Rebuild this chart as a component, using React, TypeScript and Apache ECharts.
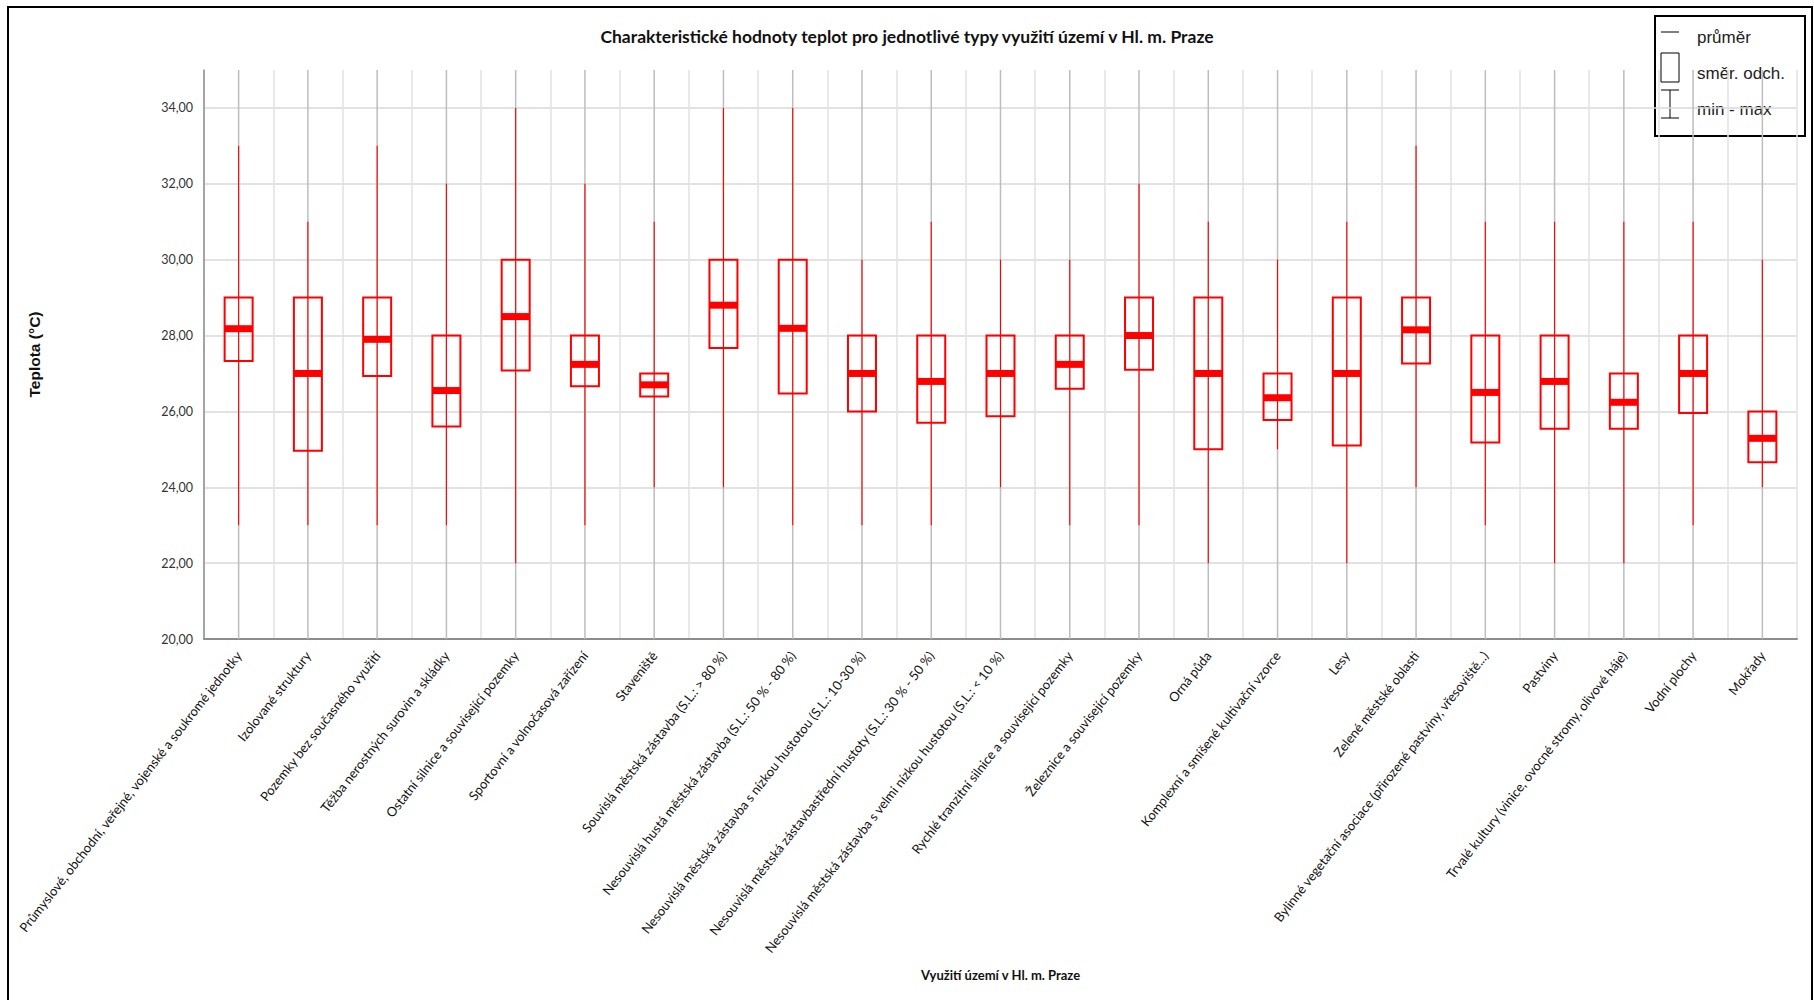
import React, { useEffect, useRef } from "react";
import * as echarts from "echarts";

const categories = [
  "Průmyslové, obchodní, veřejné, vojenské a soukromé jednotky",
  "Izolované struktury",
  "Pozemky bez současného využití",
  "Těžba nerostných surovin a skládky",
  "Ostatní silnice a související pozemky",
  "Sportovní a volnočasová zařízení",
  "Staveniště",
  "Souvislá městská zástavba (S.L.: > 80 %)",
  "Nesouvislá hustá městská zástavba (S.L.: 50 % - 80 %)",
  "Nesouvislá městská zástavba s nízkou hustotou (S.L.: 10-30 %)",
  "Nesouvislá městská zástavbastřední hustoty (S.L.: 30 % - 50 %)",
  "Nesouvislá městská zástavba s velmi nízkou hustotou (S.L.: < 10 %)",
  "Rychlé tranzitní silnice a související pozemky",
  "Železnice a související pozemky",
  "Orná půda",
  "Komplexní a smíšené kultivační vzorce",
  "Lesy",
  "Zelené městské oblasti",
  "Bylinné vegetační asociace (přirozené pastviny, vřesoviště...)",
  "Pastviny",
  "Trvalé kultury (vinice, ovocné stromy, olivové háje)",
  "Vodní plochy",
  "Mokřady",
];

const minValues = [23, 23, 23, 23, 22, 23, 24, 24, 23, 23, 23, 24, 23, 23, 22, 25, 22, 24, 23, 22, 22, 23, 24];
const sdLowValues = [27.33, 24.96, 26.93, 25.6, 27.08, 26.66, 26.39, 27.67, 26.47, 26.0, 25.7, 25.87, 26.6, 27.1, 25.0, 25.77, 25.1, 27.26, 25.18, 25.54, 25.54, 25.96, 24.66];
const meanValues = [28.18, 27.0, 27.9, 26.55, 28.5, 27.24, 26.7, 28.8, 28.19, 27.0, 26.79, 27.0, 27.24, 28.0, 27.0, 26.36, 27.0, 28.15, 26.5, 26.79, 26.24, 27.0, 25.29];
const sdHighValues = [29, 29, 29, 28, 30, 28, 27, 30, 30, 28, 28, 28, 28, 29, 29, 27, 29, 29, 28, 28, 27, 28, 26];
const maxValues = [33, 31, 33, 32, 34, 32, 31, 34, 34, 30, 31, 30, 30, 32, 31, 30, 31, 33, 31, 31, 31, 31, 30];

const yMin = 20;
const yMax = 35;
const yInterval = 2;

const legendItems = ["průměr", "směr. odch.", "min - max"];

export default function App() {
  const ref = useRef<HTMLDivElement>(null);

  useEffect(() => {
    document.body.style.margin = "0";
    const chart = echarts.init(ref.current as HTMLDivElement, null, { renderer: "svg" });
    const data = categories.map((_, i) => [
      i,
      minValues[i],
      sdLowValues[i],
      meanValues[i],
      sdHighValues[i],
      maxValues[i],
    ]);
    const red = "#ff0000";

    const renderItem = (params: any, api: any) => {
      const i = api.value(0);
      const pMin = api.coord([i, api.value(1)]);
      const pLo = api.coord([i, api.value(2)]);
      const pMean = api.coord([i, api.value(3)]);
      const pHi = api.coord([i, api.value(4)]);
      const pMax = api.coord([i, api.value(5)]);
      const cx = pMin[0];
      const cs = params.coordSys;
      const half = 14;
      return {
        type: "group",
        children: [
          {
            type: "line",
            shape: { x1: cx, y1: cs.y, x2: cx, y2: cs.y + cs.height },
            style: { stroke: "#bdbdbd", lineWidth: 1.5 },
          },
          {
            type: "line",
            shape: { x1: cx, y1: pMin[1], x2: cx, y2: pMax[1] },
            style: { stroke: red, lineWidth: 1.1 },
          },
          {
            type: "rect",
            shape: { x: cx - half, y: pHi[1], width: half * 2, height: pLo[1] - pHi[1] },
            style: { fill: "none", stroke: red, lineWidth: 2 },
          },
          {
            type: "rect",
            shape: { x: cx - half, y: pMean[1] - 3.5, width: half * 2, height: 7 },
            style: { fill: red },
          },
        ],
      };
    };

    const legendX = 1655;
    const legendTextX = 1697;
    const textStyleBase = {
      fill: "#222",
      fontFamily: "Liberation Sans, Arial, sans-serif",
      fontSize: 17,
      verticalAlign: "middle",
      align: "left",
    };

    chart.setOption({
      animation: false,
      backgroundColor: "#ffffff",
      title: {
        text: "Charakteristické hodnoty teplot pro jednotlivé typy využití území v Hl. m. Praze",
        left: "center",
        top: 22,
        textStyle: {
          fontFamily: "Lato, sans-serif",
          fontWeight: "bold",
          fontSize: 17.5,
          color: "#111",
        },
      },
      grid: { left: 204, right: 17, top: 70, bottom: 361, containLabel: false },
      xAxis: {
        type: "category",
        data: categories,
        boundaryGap: true,
        axisLine: { show: true, lineStyle: { color: "#8c8c8c", width: 2 } },
        axisTick: { show: false },
        axisLabel: {
          interval: 0,
          rotate: 52,
          margin: 14,
          fontFamily: "Lato, sans-serif",
          fontSize: 13,
          color: "#111",
        },
        splitLine: { show: true, interval: 0, lineStyle: { color: "#e2e2e2", width: 1.5 } },
        name: "Využití území v Hl. m. Praze",
        nameLocation: "middle",
        nameGap: 329,
        nameTextStyle: {
          fontFamily: "Lato, sans-serif",
          fontWeight: "bold",
          fontSize: 13,
          color: "#111",
        },
      },
      yAxis: {
        type: "value",
        min: yMin,
        max: yMax,
        interval: yInterval,
        axisLine: { show: true, lineStyle: { color: "#8c8c8c", width: 1.5 } },
        axisTick: { show: false },
        axisLabel: {
          margin: 11,
          fontFamily: "Lato, sans-serif",
          fontSize: 12.5,
          color: "#333",
          showMaxLabel: false,
          formatter: (v: number) => v.toFixed(2).replace(".", ","),
        },
        splitLine: {
          show: true,
          showMaxLine: false,
          lineStyle: { color: "#d9d9d9", width: 1.5 },
        },
        name: "Teplota (°C)",
        nameLocation: "middle",
        nameGap: 162,
        nameRotate: 90,
        nameTextStyle: {
          fontFamily: "Liberation Sans, Arial, sans-serif",
          fontWeight: "bold",
          fontSize: 15.5,
          color: "#111",
        },
      },
      graphic: [
        {
          type: "rect",
          z: 0,
          silent: true,
          shape: { x: 8, y: 7, width: 1804, height: 1000 },
          style: { fill: "none", stroke: "#000", lineWidth: 2 },
        },
        {
          type: "group",
          z: 100,
          children: [
            {
              type: "rect",
              shape: { x: legendX, y: 16, width: 150, height: 120 },
              style: { fill: "#fff", stroke: "#000", lineWidth: 2 },
            },
            {
              type: "line",
              shape: { x1: 1661, y1: 32, x2: 1679, y2: 32 },
              style: { stroke: "#000", lineWidth: 1 },
            },
            {
              type: "rect",
              shape: { x: 1661, y: 53, width: 18, height: 29 },
              style: { fill: "none", stroke: "#000", lineWidth: 1 },
            },
            {
              type: "line",
              shape: { x1: 1661, y1: 90, x2: 1679, y2: 90 },
              style: { stroke: "#000", lineWidth: 1 },
            },
            {
              type: "line",
              shape: { x1: 1670, y1: 90, x2: 1670, y2: 118 },
              style: { stroke: "#000", lineWidth: 1 },
            },
            {
              type: "line",
              shape: { x1: 1661, y1: 118, x2: 1679, y2: 118 },
              style: { stroke: "#000", lineWidth: 1 },
            },
            { type: "text", x: legendTextX, y: 37, style: { ...textStyleBase, text: legendItems[0] } },
            { type: "text", x: legendTextX, y: 73, style: { ...textStyleBase, text: legendItems[1] } },
            { type: "text", x: legendTextX, y: 109, style: { ...textStyleBase, text: legendItems[2] } },
          ],
        },
      ],
      series: [
        {
          type: "custom",
          renderItem,
          data,
          encode: { x: 0, y: [1, 2, 3, 4, 5] },
          clip: false,
        },
      ],
    });

    return () => {
      chart.dispose();
    };
  }, []);

  return <div ref={ref} style={{ width: 1814, height: 1000 }} />;
}
